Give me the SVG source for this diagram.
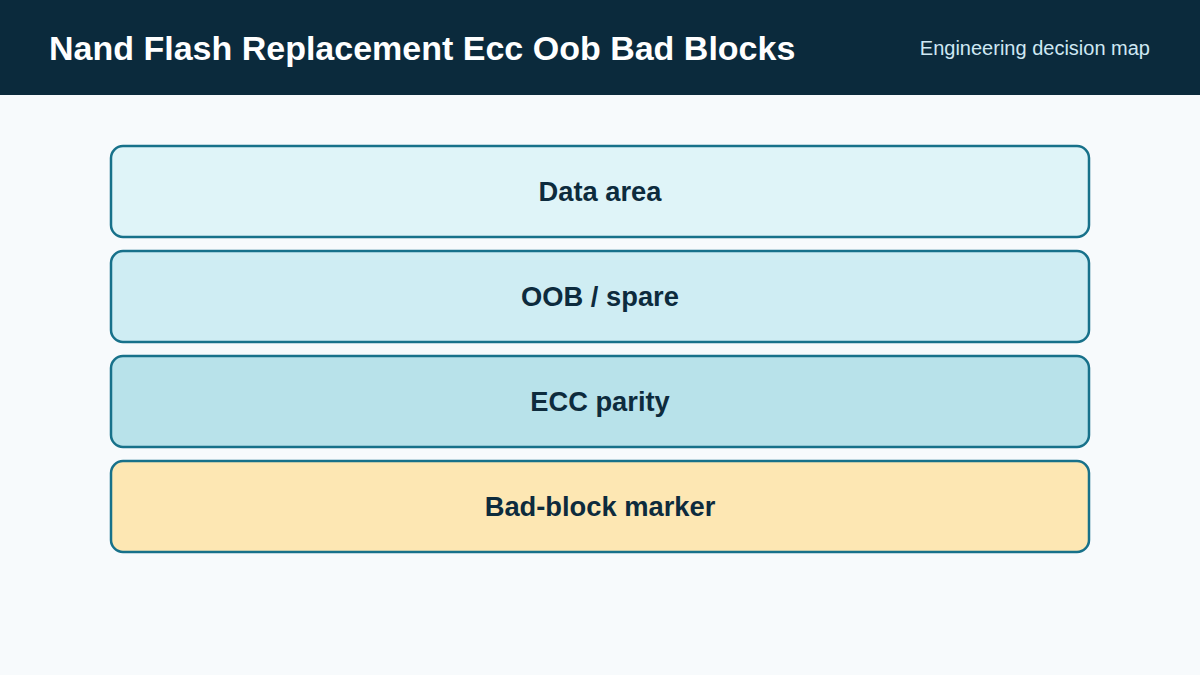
<svg xmlns="http://www.w3.org/2000/svg" width="1200" height="675" viewBox="0 0 1200 675">
<style>
.layer{stroke:#17718a;stroke-width:2.5}
.lbl{font-family:"Liberation Sans",Arial,sans-serif;font-weight:bold;font-size:27.3px;fill:#0d2b3d;text-anchor:middle;dominant-baseline:central}
</style>
<rect width="1200" height="675" fill="#f7fafc"/>
<rect width="1200" height="95" fill="#0b2a3c"/>
<text x="49" y="60" font-family="Liberation Sans, Arial, sans-serif" font-weight="bold" font-size="34" fill="#ffffff">Nand Flash Replacement Ecc Oob Bad Blocks</text>
<text x="1150" y="55" text-anchor="end" font-family="Liberation Sans, Arial, sans-serif" font-size="20" fill="#cfe8f3">Engineering decision map</text>
<g id="data-area"><rect class="layer" x="111" y="146" width="978" height="91" rx="12" fill="#dff4f8"/><text class="lbl" x="600" y="191.5">Data area</text></g>
<g id="oob-spare"><rect class="layer" x="111" y="251" width="978" height="91" rx="12" fill="#cfedf3"/><text class="lbl" x="600" y="296.5">OOB / spare</text></g>
<g id="ecc-parity"><rect class="layer" x="111" y="356" width="978" height="91" rx="12" fill="#b8e2ea"/><text class="lbl" x="600" y="401.5">ECC parity</text></g>
<g id="bad-block"><rect class="layer" x="111" y="461" width="978" height="91" rx="12" fill="#fde7b3"/><text class="lbl" x="600" y="506.5">Bad-block marker</text></g>
<g id="connectors"/>
</svg>
